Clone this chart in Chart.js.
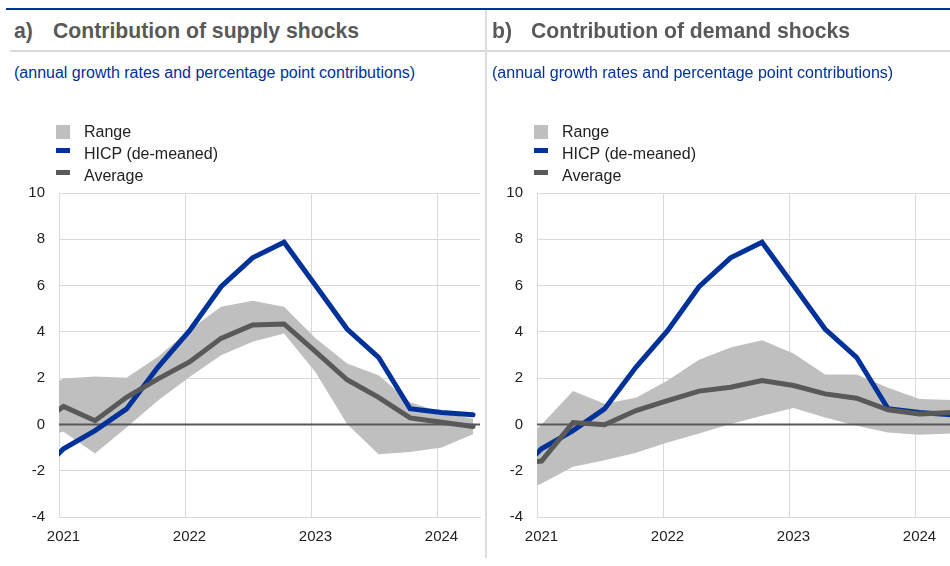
<!DOCTYPE html>
<html>
<head>
<meta charset="utf-8">
<script src="https://cdn.jsdelivr.net/npm/chart.js@4.4.0/dist/chart.umd.min.js"></script>
<style>
    body { margin: 0; width: 950px; height: 566px; overflow: hidden; background: #fff; position: relative;
           font-family: "Liberation Sans", Arial, sans-serif; }
    .rule-top { position: absolute; left: 6px; top: 8px; width: 960px; height: 2px; background: #003299; }
    .rule-title { position: absolute; left: 10px; top: 50px; width: 960px; height: 2px; background: #d9d9d9; }
    .divider { position: absolute; left: 485px; top: 10px; width: 2px; height: 548px; background: #dcdcdc; }
    .panel { position: absolute; top: 0; width: 490px; height: 566px; }
    .title { position: absolute; left: 14px; top: 20px; font-size: 21.2px; line-height: 21px; font-weight: bold; color: #595959; white-space: nowrap; }
    .title .num { display: inline-block; width: 39px; }
    .sub { position: absolute; left: 14px; top: 64px; font-size: 16px; line-height: 17px; color: #003299; white-space: nowrap; }
    .legend { position: absolute; left: 56px; top: 121px; z-index: 2; }
    .legend .row { position: relative; height: 22px; line-height: 22px; font-size: 16px; color: #222; padding-left: 28px; white-space: nowrap; }
    .legend .mk { position: absolute; left: 0; width: 14px; }
    .mk.range { top: 4px; height: 14px; background: #bfbfbf; }
    .mk.hicp { top: 5px; height: 5px; background: #003299; }
    .mk.avg { top: 5px; height: 5px; background: #595959; }
    .box { position: absolute; left: 0; top: 170px; width: 490px; height: 392px; }
</style>
</head>
<body>
<div class="rule-top"></div>
<div class="rule-title"></div>
<div class="divider"></div>

<div class="panel" style="left:0px">
    <div class="title"><span class="num">a)</span>Contribution of supply shocks</div>
    <div class="sub">(annual growth rates and percentage point contributions)</div>
    <div class="box"><canvas id="supply" width="490" height="392"></canvas></div>
    <div class="legend">
        <div class="row"><span class="mk range"></span>Range</div>
        <div class="row"><span class="mk hicp"></span>HICP (de-meaned)</div>
        <div class="row"><span class="mk avg"></span>Average</div>
    </div>
</div>

<div class="panel" style="left:478px">
    <div class="title"><span class="num">b)</span>Contribution of demand shocks</div>
    <div class="sub">(annual growth rates and percentage point contributions)</div>
    <div class="box"><canvas id="demand" width="490" height="392"></canvas></div>
    <div class="legend">
        <div class="row"><span class="mk range"></span>Range</div>
        <div class="row"><span class="mk hicp"></span>HICP (de-meaned)</div>
        <div class="row"><span class="mk avg"></span>Average</div>
    </div>
</div>

<script>
// quarterly observations (position in years), first one is 2020 Q4, off the left edge
const quarters = [2020.786, 2021.036, 2021.286, 2021.536, 2021.786, 2022.036, 2022.286, 2022.536,
                  2022.786, 2023.036, 2023.286, 2023.536, 2023.786, 2024.036, 2024.286];
const yearTicks = [2021, 2022, 2023, 2024];

const hicp = [-2.4, -1.05, -0.27, 0.67, 2.48, 4.05, 5.95, 7.2, 7.87, 6.0, 4.12, 2.9, 0.68, 0.52, 0.42];

const supplyAvg = [-0.2, 0.78, 0.16, 1.17, 1.97, 2.7, 3.72, 4.3, 4.34, 3.15, 1.93, 1.17, 0.28, 0.09, -0.09];
const supplyHigh = [1.3, 1.98, 2.07, 2.02, 2.92, 4.08, 5.09, 5.34, 5.09, 3.72, 2.63, 2.12, 0.96, 0.52, 0.25];
const supplyLow = [-0.6, -0.32, -1.26, -0.13, 1.03, 2.05, 2.99, 3.57, 3.93, 2.26, 0.02, -1.29, -1.19, -1.0, -0.42];

const demandAvg = [-1.7, -1.58, 0.08, -0.01, 0.6, 1.03, 1.44, 1.61, 1.9, 1.68, 1.32, 1.13, 0.63, 0.45, 0.52];
const demandHigh = [-1.3, 0.0, 1.44, 0.89, 1.15, 1.9, 2.8, 3.32, 3.64, 3.06, 2.16, 2.16, 1.58, 1.1, 1.06];
const demandLow = [-3.2, -2.55, -1.83, -1.55, -1.22, -0.78, -0.39, 0.02, 0.38, 0.71, 0.3, -0.06, -0.35, -0.45, -0.39];

const BLUE = '#003299';
const DARK = '#595959';
const RANGE = '#bfbfbf';
const GRID = '#d9d9d9';

function points(values) {
    return values.map((v, i) => ({ x: quarters[i], y: v }));
}

// zero line sits on top of the grey range, under the two lines
const zeroLine = {
    id: 'zeroLine',
    afterDatasetDraw(chart, args) {
        if (args.index !== 1) return;
        const { ctx, chartArea, scales } = chart;
        const y = scales.y.getPixelForValue(0);
        ctx.save();
        ctx.strokeStyle = DARK;
        ctx.lineWidth = 2;
        ctx.beginPath();
        ctx.moveTo(chartArea.left, y);
        ctx.lineTo(chartArea.right, y);
        ctx.stroke();
        ctx.restore();
    }
};

function drawPanel(id, high, low, avg) {
    const ctx = document.getElementById(id).getContext('2d');
    const line = { pointRadius: 0, borderWidth: 5, tension: 0, fill: false, clip: 0,
                   borderCapStyle: 'round', borderJoinStyle: 'miter' };

    // higher order is drawn first: range, zero line, HICP, then average on top
    new Chart(ctx, {
        type: 'line',
        data: {
            datasets: [
                { label: 'Range', data: points(high), borderWidth: 0, pointRadius: 0,
                  backgroundColor: RANGE, fill: '+1', clip: 0, order: 4 },
                { label: 'Range low', data: points(low), borderWidth: 0, pointRadius: 0,
                  fill: false, clip: 0, order: 3 },
                { ...line, label: 'HICP (de-meaned)', data: points(hicp), borderColor: BLUE, order: 2 },
                { ...line, label: 'Average', data: points(avg), borderColor: DARK, order: 1 }
            ]
        },
        options: {
            responsive: false,
            animation: false,
            devicePixelRatio: 1,
            layout: { padding: { top: 3, right: 10, left: 0, bottom: 0 } },
            plugins: {
                legend: { display: false },
                tooltip: { enabled: false }
            },
            scales: {
                x: {
                    type: 'linear',
                    min: 2021,
                    max: 2024.341,
                    afterBuildTicks: (scale) => { scale.ticks = yearTicks.map(v => ({ value: v })); },
                    afterFit: (scale) => { scale.height = 45; },
                    grid: { color: GRID, lineWidth: 1, drawTicks: false },
                    border: { color: GRID },
                    ticks: {
                        callback: (v) => String(v),
                        color: '#222',
                        font: { family: '"Liberation Sans", Arial', size: 15 },
                        padding: 11,
                        labelOffset: 4.5,
                        maxRotation: 0
                    }
                },
                y: {
                    min: -4,
                    max: 10,
                    afterFit: (scale) => { scale.width = 59; },
                    grid: {
                        color: (c) => c.tick && c.tick.value === 0 ? 'rgba(0,0,0,0)' : GRID,
                        lineWidth: 1,
                        drawTicks: false
                    },
                    border: { color: GRID },
                    ticks: {
                        stepSize: 2,
                        color: '#222',
                        font: { family: '"Liberation Sans", Arial', size: 15 },
                        padding: 14
                    }
                }
            }
        },
        plugins: [zeroLine]
    });
}

drawPanel('supply', supplyHigh, supplyLow, supplyAvg);
drawPanel('demand', demandHigh, demandLow, demandAvg);
</script>
</body>
</html>
